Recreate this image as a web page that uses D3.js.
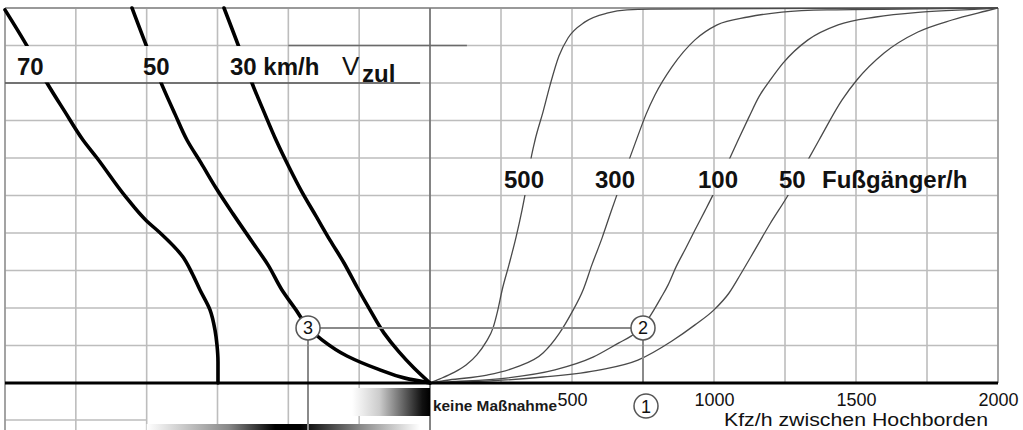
<!DOCTYPE html>
<html><head><meta charset="utf-8">
<script src="https://cdn.jsdelivr.net/npm/d3@7"></script>
<style>
html,body{margin:0;padding:0;background:#fff;}
svg{display:block;font-family:"Liberation Sans",Arial,Helvetica,sans-serif;}
</style></head><body>
<svg id="chart" width="1023" height="430"></svg>
<script>
// ---------------- DATA ----------------
// Left half: permitted speed curves (x = left grid units 0..6 from centre, y = % 0..100)
const speedLabels = ["70", "50", "30 km/h"];
const speed70 = [[6.0,99.5],[5.69,89.9],[5.407,80],[5.153,72.3],[4.899,64.8],[4.701,60],[4.306,49.9],[4.0,43.2],[3.82,40.2],[3.487,33.6],[3.36,29.3],[3.247,24.8],[3.106,19.5],[3.035,14.1],[3.007,10.1],[2.993,5.6],[2.993,0]];
const speed50 = [[4.207,100],[3.981,88.8],[3.784,79.5],[3.6,71.7],[3.431,64.8],[3.233,58.7],[3.021,52],[2.781,45.1],[2.527,38.1],[2.287,31.5],[2.09,24.8],[1.892,19.5],[1.722,14.9],[1.525,11.5],[1.172,7.2],[0.734,3.7],[0.353,1.3],[0,0]];
const speed30 = [[2.908,100],[2.682,88.8],[2.513,80],[2.344,72.3],[2.174,64.8],[1.991,57.6],[1.807,50.9],[1.609,44.5],[1.412,38.1],[1.214,32],[1.031,25.6],[0.847,19.5],[0.649,13.3],[0.438,8.3],[0.226,4],[0,0]];

// Right half: pedestrian curves (x = Kfz/h, y = %)
const pedLabels = ["500", "300", "100", "50"];
const ped500 = [[0,0],[35,1.1],[81,2.7],[127,4.8],[165,7.5],[197,10.9],[222,14.7],[239,19.5],[254,24.8],[278,31.5],[303,38.9],[324,46.1],[342,53.3],[356,60],[370,64.8],[398,72.3],[423,79.5],[454,87.2],[486,92],[546,96.3],[627,98.7],[694,99.5],[775,99.7],[2000,100]];
const ped300 = [[0,0],[67,0.8],[201,2.1],[306,4.3],[398,8],[454,13.1],[500,18.9],[539,24.8],[570,31.5],[606,38.7],[637,45.6],[669,52.5],[701,59.5],[729,65.3],[761,71.7],[792,76.8],[852,84.3],[933,91.5],[1011,95.5],[1120,97.6],[1239,98.9],[1398,99.5],[1655,99.7],[2000,100]];
const ped100 = [[0,0],[67,0.3],[268,1.3],[440,3.5],[574,6.9],[665,10.7],[708,12.5],[746,14.7],[782,18.7],[813,22.7],[838,26.1],[866,30.9],[901,36],[933,40.8],[968,45.9],[1000,50.7],[1028,55.2],[1056,60],[1085,64.8],[1123,70.9],[1158,76.3],[1201,81.1],[1243,85.3],[1331,91.5],[1437,95.5],[1570,97.6],[1729,98.9],[1930,99.7],[2000,100]];
const ped50 = [[0,0],[134,0.3],[398,1.6],[599,3.5],[732,6.1],[852,11.2],[933,15.5],[1000,19.5],[1053,24],[1092,28.8],[1144,35.5],[1197,42.4],[1257,49.6],[1296,54.7],[1331,59.5],[1370,64.8],[1451,75.5],[1503,80.8],[1599,88],[1718,93.6],[1838,96.8],[1958,99.2],[2000,100]];

const xTickValues = [500, 1000, 1500, 2000];
const xTickLabels = ["500", "1000", "1500", "2000"];
const axisTitle = "Kfz/h zwischen Hochborden";
const pedUnit = "Fußgänger/h";
const speedUnitV = "V";
const speedUnitSub = "zul";
const noActionLabel = "keine Maßnahme";

// worked example (1 -> 2 -> 3)
const exampleKfz = 750;
const examplePct = 14.7;
const exampleLeftU = 1.722;
const markerLabels = ["1", "2", "3"];

// ---------------- DRAWING ----------------
const svg = d3.select("#chart");
const W = 1023, H = 430;
svg.append("rect").attr("width", W).attr("height", H).attr("fill", "#fff");

const xR = d3.scaleLinear().domain([0, 2000]).range([430, 998]);
const xL = d3.scaleLinear().domain([0, 6]).range([430, 5]);
const y = d3.scaleLinear().domain([0, 100]).range([383, 8]);

const defs = svg.append("defs");
const g1 = defs.append("linearGradient").attr("id", "gNone").attr("x1", "0").attr("x2", "1").attr("y1", "0").attr("y2", "0");
[[0, "#fff"], [0.35, "#ccc"], [0.7, "#555"], [0.9, "#111"], [1, "#000"]].forEach(s => g1.append("stop").attr("offset", s[0]).attr("stop-color", s[1]));
const g2 = defs.append("linearGradient").attr("id", "gBottom").attr("x1", "0").attr("x2", "1").attr("y1", "0").attr("y2", "0");
[[0, "#fff"], [0.3, "#888"], [0.47, "#000"], [0.56, "#000"], [0.78, "#888"], [1, "#fff"]].forEach(s => g2.append("stop").attr("offset", s[0]).attr("stop-color", s[1]));

// clip paths for label bands
const cpL = defs.append("clipPath").attr("id", "clipLeft");
cpL.append("rect").attr("x", 0).attr("y", 0).attr("width", 432).attr("height", y(90) + 0.5);
cpL.append("rect").attr("x", 0).attr("y", y(80) - 0.5).attr("width", 432).attr("height", 400);
const cpR = defs.append("clipPath").attr("id", "clipRight");
cpR.append("rect").attr("x", 428).attr("y", 0).attr("width", 600).attr("height", y(60) + 0.5);
cpR.append("rect").attr("x", 428).attr("y", y(50) - 0.5).attr("width", 600).attr("height", 400);

const grid = svg.append("g").attr("stroke", "#bdbdbd").attr("stroke-width", 1.6).attr("fill", "none");
d3.range(250, 2000, 250).forEach(v => {
  grid.append("line").attr("x1", xR(v)).attr("x2", xR(v)).attr("y1", y(100)).attr("y2", y(0));
});
d3.range(1, 6, 1).forEach(u => {
  grid.append("line").attr("x1", xL(u)).attr("x2", xL(u)).attr("y1", y(100)).attr("y2", H);
});
d3.range(10, 100, 10).forEach(p => {
  grid.append("line").attr("x1", xL(6)).attr("x2", xR(2000)).attr("y1", y(p)).attr("y2", y(p));
});
grid.append("line").attr("x1", xL(6)).attr("x2", xL(4)).attr("y1", 420).attr("y2", 420);

// borders
const border = svg.append("g").attr("stroke", "#999").attr("stroke-width", 1.8).attr("fill", "none");
border.append("line").attr("x1", xL(6)).attr("x2", xR(2000)).attr("y1", y(100)).attr("y2", y(100));
border.append("line").attr("x1", xL(6)).attr("x2", xL(6)).attr("y1", y(100)).attr("y2", H);
border.append("line").attr("x1", xR(2000)).attr("x2", xR(2000)).attr("y1", y(100)).attr("y2", y(0));
svg.append("line").attr("x1", xR(0)).attr("x2", xR(0)).attr("y1", y(100)).attr("y2", H)
  .attr("stroke", "#777").attr("stroke-width", 1.8);

// band lines (left label band)
svg.append("line").attr("x1", xL(2)).attr("x2", xR(130)).attr("y1", y(90)).attr("y2", y(90)).attr("stroke", "#6a6a6a").attr("stroke-width", 1.6);
svg.append("line").attr("x1", xL(6)).attr("x2", xL(0.14)).attr("y1", y(80)).attr("y2", y(80)).attr("stroke", "#555").attr("stroke-width", 1.6);

// gradient bars below axis
svg.append("rect").attr("x", xL(1.1)).attr("y", 388).attr("width", xR(0) - xL(1.1)).attr("height", 28).attr("fill", "url(#gNone)");
svg.append("rect").attr("x", xL(4)).attr("y", 424).attr("width", xL(0.14) - xL(4)).attr("height", 8).attr("fill", "url(#gBottom)");

// right curves
const lineR = d3.line().x(d => xR(d[0])).y(d => y(d[1])).curve(d3.curveMonotoneX);
const gR = svg.append("g").attr("clip-path", "url(#clipRight)");
[ped500, ped300, ped100, ped50].forEach(s => {
  gR.append("path").attr("d", lineR(s)).attr("fill", "none").attr("stroke", "#4a4a4a").attr("stroke-width", 1.3);
});

// left curves
const lineL = d3.line().x(d => xL(d[0])).y(d => y(d[1])).curve(d3.curveMonotoneY);
const gL = svg.append("g").attr("clip-path", "url(#clipLeft)");
[speed70, speed50, speed30].forEach(s => {
  const pts = s.slice().sort((a, b) => b[1] - a[1]);
  gL.append("path").attr("d", lineL(pts)).attr("fill", "none").attr("stroke", "#000").attr("stroke-width", 3.6).attr("stroke-linejoin", "round").attr("stroke-linecap", "round");
});

// example construction lines
const ex = svg.append("g").attr("stroke", "#8a8a8a").attr("stroke-width", 2);
ex.append("line").attr("x1", xL(exampleLeftU)).attr("x2", xR(exampleKfz)).attr("y1", y(examplePct)).attr("y2", y(examplePct));
ex.append("line").attr("x1", xR(exampleKfz)).attr("x2", xR(exampleKfz)).attr("y1", y(examplePct)).attr("y2", y(0));
ex.append("line").attr("x1", xL(exampleLeftU)).attr("x2", xL(exampleLeftU)).attr("y1", y(examplePct)).attr("y2", H);

// x axis baseline
svg.append("line").attr("x1", xL(6)).attr("x2", xR(2000)).attr("y1", y(0)).attr("y2", y(0))
  .attr("stroke", "#000").attr("stroke-width", 3);

const axis = d3.axisBottom(xR).tickValues(xTickValues).tickFormat((d, i) => xTickLabels[i]).tickSize(0).tickPadding(10);
const ag = svg.append("g").attr("transform", `translate(0,${y(0)})`).call(axis);
ag.select(".domain").remove();
ag.selectAll("text").attr("font-size", 18).attr("fill", "#111").attr("font-family", "Liberation Sans, Arial, sans-serif");

svg.append("text").attr("x", 724).attr("y", 425.5).attr("font-size", 17.5).attr("fill", "#111")
  .attr("textLength", 264).attr("lengthAdjust", "spacingAndGlyphs").text(axisTitle);
svg.append("text").attr("x", 433).attr("y", 411).attr("font-size", 15.5).attr("font-weight", "bold").attr("fill", "#1a1a1a")
  .attr("textLength", 124).attr("lengthAdjust", "spacingAndGlyphs").text(noActionLabel);

// markers
const markers = [
  [xR(exampleKfz) + 3, 406],
  [xR(exampleKfz), y(examplePct)],
  [xL(exampleLeftU), y(examplePct)]
];
markers.forEach((m, i) => {
  svg.append("circle").attr("cx", m[0]).attr("cy", m[1]).attr("r", 12).attr("fill", "#fff").attr("stroke", "#555").attr("stroke-width", 1.5);
  svg.append("text").attr("x", m[0]).attr("y", m[1] + 6.5).attr("text-anchor", "middle").attr("font-size", 18).attr("fill", "#111").text(markerLabels[i]);
});

// left band labels
const leftLabelX = [17, 143, 230];
speedLabels.forEach((t, i) => {
  svg.append("text").attr("x", leftLabelX[i]).attr("y", 75).attr("font-size", 24).attr("font-weight", "bold").attr("fill", "#111").text(t);
});
svg.append("text").attr("x", 342).attr("y", 75).attr("font-size", 26).attr("fill", "#111").text(speedUnitV);
svg.append("text").attr("x", 362).attr("y", 82).attr("font-size", 24).attr("font-weight", "bold").attr("fill", "#111").text(speedUnitSub);

// right band labels
const pedLabelX = [504, 595, 698, 779];
pedLabels.forEach((t, i) => {
  svg.append("text").attr("x", pedLabelX[i]).attr("y", 188).attr("font-size", 24).attr("font-weight", "bold").attr("fill", "#111").text(t);
});
svg.append("text").attr("x", 822).attr("y", 188).attr("font-size", 24).attr("font-weight", "bold").attr("fill", "#111").text(pedUnit);
</script>
</body></html>
